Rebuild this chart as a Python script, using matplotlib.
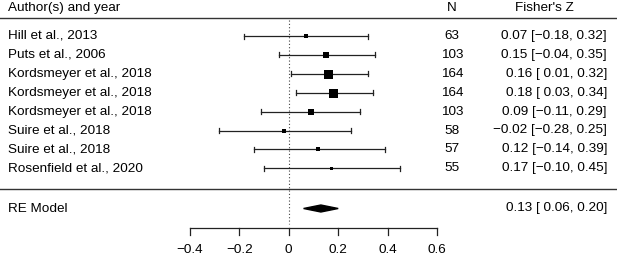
import matplotlib
matplotlib.use("Agg")
import matplotlib.pyplot as plt
from matplotlib.patches import Polygon

plt.rcParams['font.family'] = ['Liberation Sans', 'DejaVu Sans']

studies = ["Hill et al., 2013", "Puts et al., 2006", "Kordsmeyer et al., 2018",
           "Kordsmeyer et al., 2018", "Kordsmeyer et al., 2018", "Suire et al., 2018",
           "Suire et al., 2018", "Rosenfield et al., 2020"]
n = [63, 103, 164, 164, 103, 58, 57, 55]
z = [0.07, 0.15, 0.16, 0.18, 0.09, -0.02, 0.12, 0.17]
lo = [-0.18, -0.04, 0.01, 0.03, -0.11, -0.28, -0.14, -0.10]
hi = [0.32, 0.35, 0.32, 0.34, 0.29, 0.25, 0.39, 0.45]
re_est, re_lo, re_hi = 0.13, 0.06, 0.20
xticks = [-0.4, -0.2, 0, 0.2, 0.4, 0.6]

W, H = 617, 258
fig = plt.figure(figsize=(W / 100, H / 100), dpi=100)
ax = fig.add_axes([0, 0, 1, 1])
# x in effect units, y in pixel rows
px_per_unit = 247.5
x0px = 288.7
ax.set_xlim(-x0px / px_per_unit, (W - x0px) / px_per_unit)
ax.set_ylim(H, 0)
ax.axis('off')

fs = 9.7
row_y0, row_step = 36.0, 18.9
ys = [row_y0 + i * row_step for i in range(len(studies))]
y_head = 8
y_line1 = 17.5
y_line2 = 189
y_re = 208.5
xl = ax.get_xlim()
x_label = xl[0] + 8 / px_per_unit
x_n = xl[0] + 452 / px_per_unit
x_fz = xl[0] + 607 / px_per_unit
x_fzh = xl[0] + 544 / px_per_unit

def fmtci(v):
    s = f"{abs(v):.2f}"
    return ("\u2212" + s) if v < 0 else (" " + s)

def ci_text(e, l, h):
    est = f"{e:.2f}".replace('-', '\u2212')
    hs = f"{h:.2f}".replace('-', '\u2212')
    return f"{est} [{fmtci(l)}, {hs}]"

ax.text(x_label, y_head, "Author(s) and year", fontsize=fs, va='center', ha='left')
ax.text(x_n, y_head, "N", fontsize=fs, va='center', ha='center')
ax.text(x_fzh, y_head, "Fisher's Z", fontsize=fs, va='center', ha='center')
ax.plot(xl, [y_line1, y_line1], color='#333333', lw=1.0)
ax.plot(xl, [y_line2, y_line2], color='#333333', lw=1.0)

# reference dotted line at 0
ax.plot([0, 0], [20, 224], color='#444444', lw=0.8, ls=(0, (1, 2)))

w = [v - 3 for v in n]
wmin, wmax = min(w), max(w)
for i, s in enumerate(studies):
    y = ys[i]
    ax.text(x_label, y, s, fontsize=fs, va='center', ha='left')
    ax.text(x_n, y, str(n[i]), fontsize=fs, va='center', ha='center')
    ax.text(x_fz, y, ci_text(z[i], lo[i], hi[i]), fontsize=fs, va='center', ha='right')
    ax.plot([lo[i], hi[i]], [y, y], color='#222222', lw=0.9)
    ax.plot([lo[i], lo[i]], [y - 2.5, y + 2.5], color='#222222', lw=0.9)
    ax.plot([hi[i], hi[i]], [y - 2.5, y + 2.5], color='#222222', lw=0.9)
    cex = 0.5 + (w[i] - wmin) / (wmax - wmin)
    size_px = 6.0 * cex
    ax.plot(z[i], y, marker='s', color='black', ms=size_px * 0.72, mew=0)

ax.text(x_label, y_re, "RE Model", fontsize=fs, va='center', ha='left')
ax.text(x_fz, y_re, ci_text(re_est, re_lo, re_hi), fontsize=fs, va='center', ha='right')
dia = Polygon([[re_lo, y_re], [re_est, y_re - 3.5], [re_hi, y_re], [re_est, y_re + 3.5]],
              closed=True, color='black')
ax.add_patch(dia)

# x axis
y_ax = 228
ax.plot([xticks[0], xticks[-1]], [y_ax, y_ax], color='#222222', lw=0.9)
for t in xticks:
    ax.plot([t, t], [y_ax, y_ax + 7], color='#222222', lw=0.9)
    lab = "0" if t == 0 else f"{t:.1f}".replace('-', '\u2212')
    ax.text(t, 250, lab, fontsize=fs, va='center', ha='center')

fig.savefig("out.png", dpi=100)
